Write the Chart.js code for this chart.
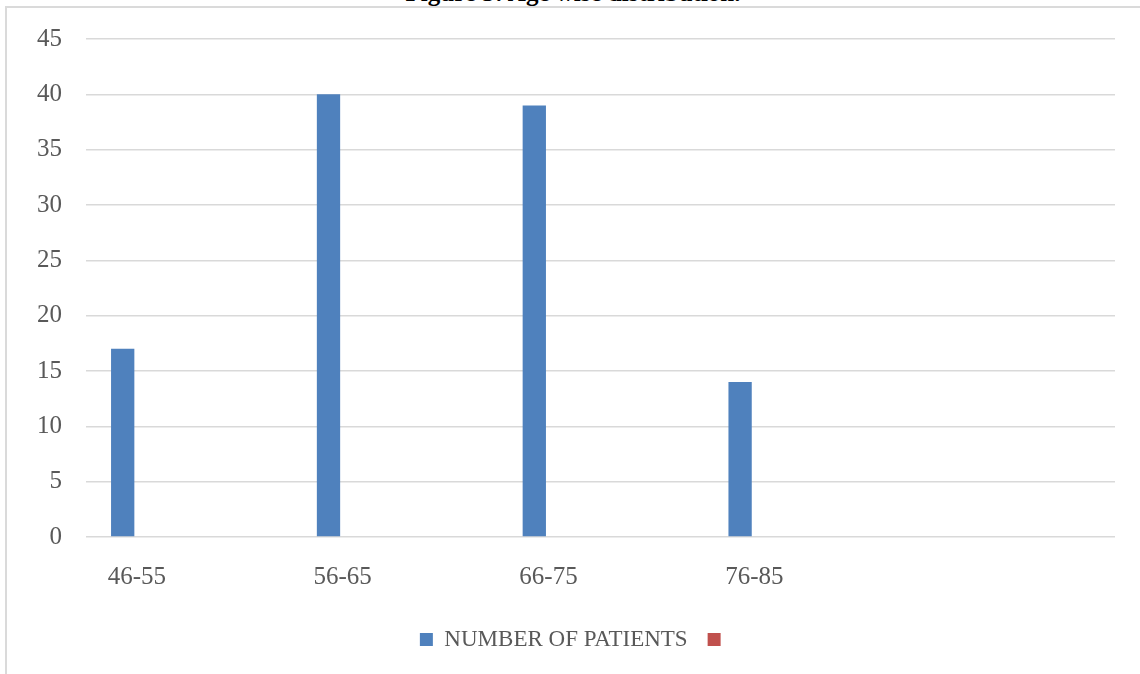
<!DOCTYPE html>
<html>
<head>
<meta charset="utf-8">
<script src="https://cdn.jsdelivr.net/npm/chart.js@4"></script>
<style>
  body { margin: 0; background: #fff; overflow: hidden; }
  #frame { position: absolute; left: 5px; top: 6px; width: 1200px; height: 700px;
           border-left: 2px solid #dadada; border-top: 2px solid #dadada; }
  #title { position: absolute; left: 0; width: 1146px; top: -20px; text-align: center;
           font: bold 25px "Liberation Serif", serif; line-height: 25px; color: #000; }
  #chart { position: absolute; left: 0; top: 0; }
</style>
</head>
<body>
<div id="title">Figure 3: Age wise distribution.</div>
<div id="frame"></div>
<canvas id="chart" width="1140" height="674"></canvas>
<script>
// age groups (last slot is empty in the original sheet)
const ageGroups = ["46-55", "56-65", "66-75", "76-85", ""];
const patients = [17, 40, 39, 14, null];
const emptySeries = [];   // second series has no values
const yTicksMax = 45;
const yTicksStep = 5;

const txt = "#595959";
const serif = "'Liberation Serif', serif";

const ctx = document.getElementById("chart");
new Chart(ctx, {
  type: "bar",
  data: {
    labels: ageGroups,
    datasets: [
      {
        label: "NUMBER OF PATIENTS",
        data: patients,
        backgroundColor: "#4f81bd",
        borderWidth: 0,
      },
      {
        label: "",
        data: emptySeries,
        backgroundColor: "#c0504d",
        borderWidth: 0,
      },
      {
        label: "spacer",
        data: emptySeries,
        backgroundColor: "transparent",
      },
    ],
  },
  options: {
    responsive: false,
    animation: false,
    categoryPercentage: 0.965,
    barPercentage: 0.352,
    layout: { padding: { left: 37, right: 25, top: 36, bottom: 13 } },
    scales: {
      x: {
        grid: { display: false },
        border: { display: false },
        ticks: {
          color: txt,
          font: { family: serif, size: 25 },
          padding: 17,
          labelOffset: -52,
          maxRotation: 0,
        },
        afterFit: (axis) => { axis.height = 71; },
      },
      y: {
        min: 0,
        max: yTicksMax,
        ticks: {
          stepSize: yTicksStep,
          color: txt,
          font: { family: serif, size: 25 },
          padding: 24,
        },
        grid: { color: "#d9d9d9", lineWidth: 1.5, drawTicks: false },
        border: { display: false },
        afterFit: (axis) => { axis.width = 49; },
      },
    },
    plugins: {
      tooltip: { enabled: false },
      legend: {
        position: "bottom",
        labels: {
          color: txt,
          font: { family: serif, size: 23 },
          boxWidth: 13,
          boxHeight: 13,
          padding: 20,
          filter: (item) => item.datasetIndex < 2,
        },
      },
    },
  },
});
</script>
</body>
</html>
